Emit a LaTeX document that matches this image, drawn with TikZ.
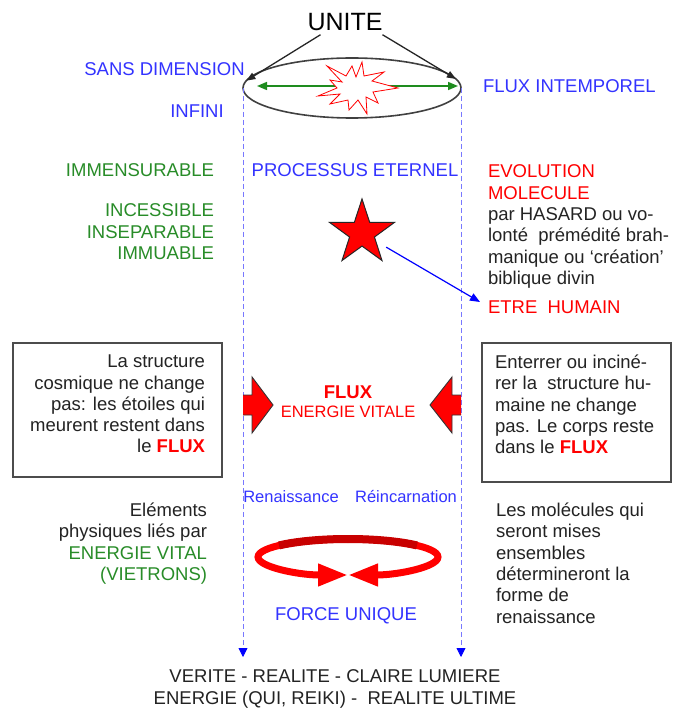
\documentclass[tikz,border=0pt]{standalone}
\usepackage{fontspec}
\setmainfont{Liberation Sans}
\usetikzlibrary{arrows.meta,shapes.geometric}
\definecolor{txtblue}{RGB}{51,51,255}
\definecolor{txtgreen}{RGB}{40,140,40}
\definecolor{txtred}{RGB}{255,0,0}
\definecolor{txtblack}{RGB}{35,35,35}
\definecolor{guide}{RGB}{120,120,255}
\definecolor{ringdark}{RGB}{200,0,0}
\definecolor{arrowgreen}{RGB}{30,140,30}

\begin{document}
\begin{tikzpicture}[x=1pt,y=-1pt,
  every node/.style={inner sep=0pt, outer sep=0pt,
    font=\fontsize{18.5}{21.3}\selectfont, text=txtblack},
  bluelbl/.style={text=txtblue},
  greenlbl/.style={text=txtgreen},
  redlbl/.style={text=txtred},
  smalltext/.style={font=\fontsize{16.5}{19}\selectfont},
  infobox/.style={draw=black!70, line width=1.8pt},
  guideline/.style={guide, line width=0.8pt, dash pattern=on 5pt off 3pt,
    -{Triangle[length=9pt,width=9pt,color=blue]}},
  blockarrow/.style={fill=red, draw=black!80, line width=0.9pt, line join=miter},
  ringarc/.style={red, line width=7pt, -{Triangle[length=30pt,width=21pt]}},
  pointer/.style={black!85, line width=1.3pt, -{Triangle[length=9pt,width=7pt]}},
]
\useasboundingbox (0,0) rectangle (673,708);
\fill[white] (0,0) rectangle (673,708);

% ---------- top: unity and the timeless flow ----------
\node[font=\fontsize{25}{28}\selectfont, text=black] (unite) at (345,22) {UNITE};
\node[ellipse, draw=black!75, line width=1.6pt, minimum width=218pt,
      minimum height=60pt] (ring) at (352,88) {};

\coordinate (greenL) at (257,86);
\coordinate (greenR) at (458,86);
\draw[arrowgreen, line width=1.5pt, {Triangle[length=10pt,width=8pt]}-{Triangle[length=10pt,width=8pt]}]
  (greenL) -- (greenR);

% burst in the middle of the ellipse
\draw[red, line width=0.8pt, fill=white, line join=miter]
  plot coordinates {(362,62) (364,76) (384,72) (372,81) (398,88) (373,92)
    (378,103) (366,97) (367,114) (358,100) (349,110) (348,100) (330,104)
    (340,94) (318,96) (337,88) (330,80) (342,82) (327,66) (346,76)
    (352,66) (356,77)} -- cycle;

\draw[pointer] ([xshift=13pt,yshift=-4pt]unite.south west) -- (ring.176);
\draw[pointer] ([yshift=-4pt]unite.south east) -- (ring.5);

% ---------- guide lines down the page ----------
\coordinate (guideLend) at (243,657);
\coordinate (guideRend) at (461,657);
\draw[guideline] (ring.west) -- (guideLend);
\draw[guideline] (ring.east) -- (guideRend);

% ---------- labels around the ellipse ----------
\node[bluelbl] (sansdim) at (164.5,69) {SANS DIMENSION};
\node[bluelbl] (infini) at (197,111) {INFINI};
\node[bluelbl, anchor=west] (fluxint) at (483,86) {FLUX INTEMPOREL};

% ---------- second band ----------
\node[greenlbl, anchor=east] (immens) at (214,170) {IMMENSURABLE};
\node[bluelbl] (processus) at (355,170) {PROCESSUS ETERNEL};
\node[greenlbl, anchor=north east, align=right] (qualities) at (214,204)
  {INCESSIBLE\\INSEPARABLE\\IMMUABLE};
\node[anchor=north west, align=left] (evolution) at (488,165)
  {\textcolor{txtred}{EVOLUTION}\\\textcolor{txtred}{MOLECULE}\\par HASARD ou vo-\\lonté~ prémédité brah-\\manique ou ‘création’\\biblique divin};

\node[star, star points=5, star point ratio=2.6, minimum size=68pt,
      fill=red, draw=black!85, line width=1pt] (star) at (362,233) {};
\node[redlbl, anchor=west] (etre) at (488,307) {ETRE~ HUMAIN};
\coordinate (etretip) at (480,302);
\draw[blue, line width=1.2pt, shorten <=28pt, -{Triangle[length=10pt,width=8pt]}]
  (star.center) -- (etretip);

% ---------- boxes and the vital flow ----------
\node[infobox, anchor=north west, minimum width=209pt, minimum height=134pt]
  (lbox) at (13,343) {};
\node[anchor=north east, align=right] (ltext) at (205,355)
  {La structure\\cosmique ne change\\pas: les étoiles qui\\meurent restent dans\\le \textcolor{txtred}{\bfseries FLUX}};

\node[infobox, anchor=north west, minimum width=189pt, minimum height=139pt]
  (rbox) at (482,343) {};
\node[anchor=north west, align=left] (rtext) at (495,355)
  {Enterrer ou inciné-\\rer la~ structure hu-\\maine ne change\\pas. Le corps reste\\dans le \textcolor{txtred}{\bfseries FLUX}};

\filldraw[blockarrow] (243,395) -- (252,395) -- (252,377) -- (273,405)
  -- (252,433) -- (252,415) -- (243,415);
\filldraw[blockarrow] (461,395) -- (452,395) -- (452,377) -- (430,405)
  -- (452,433) -- (452,415) -- (461,415);

\node[redlbl, font=\fontsize{18.5}{21}\selectfont\bfseries] (flux) at (348,392) {FLUX};
\node[redlbl, smalltext] (energie) at (348,412) {ENERGIE VITALE};

% ---------- rebirth ----------
\node[bluelbl, smalltext] (renaissance) at (291,497) {Renaissance};
\node[bluelbl, smalltext] (reincarnation) at (406,497) {Réincarnation};

\node[anchor=north east, align=right] (elements) at (207,503)
  {Eléments\\physiques liés par\\\textcolor{txtgreen}{ENERGIE VITAL}\\\textcolor{txtgreen}{(VIETRONS)}};
\node[anchor=north west, align=left] (molecules) at (496,503)
  {Les molécules qui\\seront mises\\ensembles\\détermineront la\\forme de\\renaissance};

% circular force: two arcs meeting head to head
\coordinate (ringtop) at (348,539);
\draw[ringarc] (ringtop) arc[start angle=90, end angle=270, x radius=90pt, y radius=18pt];
\draw[ringarc] (ringtop) arc[start angle=90, end angle=-90, x radius=90pt, y radius=18pt];
\draw[ringdark, line width=8pt] (ringtop) arc[start angle=90, end angle=140, x radius=90pt, y radius=18pt];
\draw[ringdark, line width=8pt] (ringtop) arc[start angle=90, end angle=40, x radius=90pt, y radius=18pt];

\node[bluelbl] (force) at (346,616) {FORCE UNIQUE};

% ---------- conclusion ----------
\node[anchor=north, align=center] (verite) at (335,670)
  {VERITE - REALITE - CLAIRE LUMIERE\\ENERGIE (QUI, REIKI) -~ REALITE ULTIME};
\end{tikzpicture}
\end{document}
